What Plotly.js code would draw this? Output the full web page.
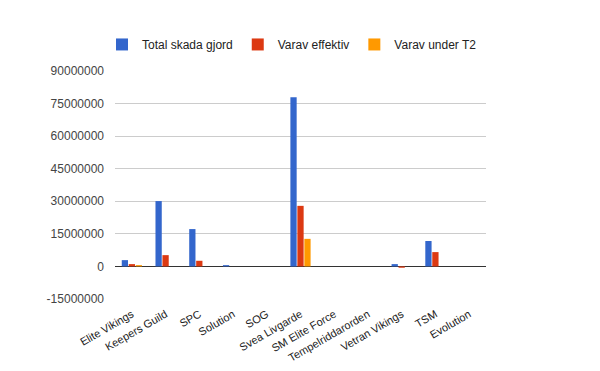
<!DOCTYPE html>
<html><head><meta charset="utf-8">
<script src="https://cdn.plot.ly/plotly-3.0.1.min.js"></script>
<style>body{margin:0;background:#fff}#c{width:600px;height:371px}</style>
</head><body><div id="c"></div>
<script>
const categories = ["Elite Vikings","Keepers Guild","SPC","Solution","SOG","Svea Livgarde","SM Elite Force","Tempelriddarorden","Vetran Vikings","TSM","Evolution"];
const totalSkada = [2900000,30100000,17200000,600000,0,77900000,0,0,1070000,11700000,0];
const varavEffektiv = [1070000,5200000,2600000,0,0,27900000,0,0,-600000,6600000,0];
const varavUnderT2 = [600000,0,0,0,0,12700000,0,0,0,0,0];
const seriesNames = ["Total skada gjord","Varav effektiv","Varav under T2"];
const yTicks = [-15000000,0,15000000,30000000,45000000,60000000,75000000,90000000];

const colors = ["#3366cc","#dc3912","#ff9900"];
const data = [totalSkada, varavEffektiv, varavUnderT2].map((v,i)=>({
  type:"bar", x:categories, y:v, name:seriesNames[i], marker:{color:colors[i]}
}));
Plotly.newPlot("c", data, {
  width:600, height:371,
  margin:{l:115,r:114,t:71,b:72},
  font:{family:"Liberation Sans, Arial, sans-serif", size:11, color:"#222"},
  barmode:"group", bargap:0.38, bargroupgap:0.1,
  showlegend:true,
  legend:{orientation:"h", x:-0.035, xanchor:"left", y:1.18, yanchor:"top", font:{size:12,color:"#222"}, traceorder:"normal"},
  xaxis:{tickangle:-30, showgrid:false, zeroline:false, showline:false, ticks:"", tickfont:{size:11,color:"#222"}, ticklabelstandoff:6},
  yaxis:{range:[-15000000,90000000], tickvals:yTicks, ticktext:yTicks.map(String), showgrid:true, gridcolor:"#cccccc", zeroline:true, zerolinecolor:"#333", zerolinewidth:1, tickfont:{size:12,color:"#444"}, ticks:"", ticklabelstandoff:10},
  plot_bgcolor:"#fff", paper_bgcolor:"#fff"
}, {displayModeBar:false, staticPlot:true});
</script></body></html>
